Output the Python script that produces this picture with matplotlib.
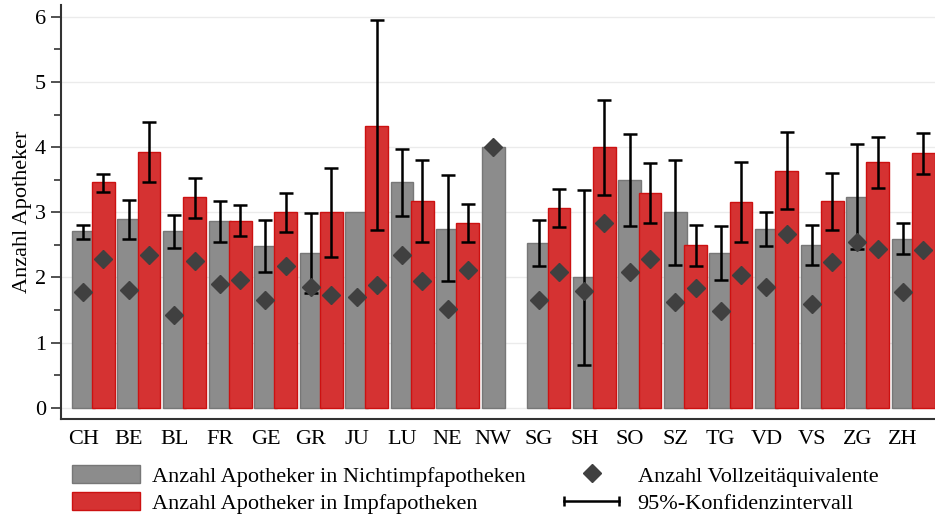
import numpy as np
import matplotlib.pyplot as plt
from matplotlib.lines import Line2D
from matplotlib.patches import Patch
from matplotlib.legend_handler import HandlerLine2D

plt.rcParams['font.family'] = ['Liberation Serif', 'DejaVu Serif']

kantone = ['CH', 'BE', 'BL', 'FR', 'GE', 'GR', 'JU', 'LU', 'NE', 'NW',
           'SG', 'SH', 'SO', 'SZ', 'TG', 'VD', 'VS', 'ZG', 'ZH']

# Nichtimpfapotheken
nicht_mittel = [2.71, 2.90, 2.71, 2.86, 2.49, 2.38, 3.00, 3.46, 2.75, 4.00,
                2.53, 2.00, 3.50, 3.00, 2.37, 2.74, 2.50, 3.24, 2.59]
nicht_unten = [2.59, 2.59, 2.46, 2.54, 2.08, 1.76, np.nan, 2.94, 1.94, np.nan,
               2.18, 0.66, 2.79, 2.19, 1.96, 2.48, 2.19, 2.44, 2.36]
nicht_oben = [2.81, 3.19, 2.96, 3.18, 2.89, 2.99, np.nan, 3.97, 3.57, np.nan,
              2.89, 3.34, 4.20, 3.80, 2.79, 3.00, 2.80, 4.05, 2.83]
nicht_vze = [1.78, 1.81, 1.43, 1.90, 1.66, 1.86, 1.70, 2.34, 1.52, 4.00,
             1.66, 1.80, 2.09, 1.63, 1.49, 1.86, 1.60, 2.55, 1.78]

# Impfapotheken
impf_mittel = [3.46, 3.92, 3.23, 2.87, 3.00, 3.00, 4.33, 3.18, 2.83, np.nan,
               3.07, 4.00, 3.30, 2.50, 3.16, 3.64, 3.17, 3.78, 3.91]
impf_unten = [3.31, 3.46, 2.92, 2.63, 2.70, 2.32, 2.73, 2.55, 2.54, np.nan,
              2.77, 3.26, 2.83, 2.18, 2.55, 3.05, 2.73, 3.37, 3.59]
impf_oben = [3.59, 4.38, 3.52, 3.11, 3.30, 3.68, 5.95, 3.81, 3.13, np.nan,
             3.36, 4.72, 3.76, 2.81, 3.77, 4.23, 3.61, 4.16, 4.22]
impf_vze = [2.29, 2.35, 2.26, 1.96, 2.18, 1.73, 1.89, 1.94, 2.11, np.nan,
            2.09, 2.83, 2.28, 1.84, 2.04, 2.66, 2.24, 2.44, 2.42]

grau = '#8c8c8c'
rot = '#d53232'
raute = '#404040'

x = np.arange(len(kantone))
x_grau = x - 0.222
x_rot = x + 0.222

fig = plt.figure(figsize=(9.35, 5.19), dpi=100)
ax = fig.add_axes([0.065, 0.193, 0.935, 0.797])

ax.bar(x_grau, nicht_mittel, width=0.5, color=grau, edgecolor='#777777', linewidth=1, zorder=2)
ax.bar(x_rot, impf_mittel, width=0.5, color=rot, edgecolor='#cc1111', linewidth=1, zorder=2)

def fehler(mittel, unten, oben):
    m = np.array(mittel)
    return np.vstack([m - np.array(unten), np.array(oben) - m])

ax.errorbar(x_grau, nicht_mittel, yerr=fehler(nicht_mittel, nicht_unten, nicht_oben),
            fmt='none', ecolor='black', elinewidth=1.8, capsize=5, capthick=1.8, zorder=3)
ax.errorbar(x_rot, impf_mittel, yerr=fehler(impf_mittel, impf_unten, impf_oben),
            fmt='none', ecolor='black', elinewidth=1.8, capsize=5, capthick=1.8, zorder=3)

ax.plot(x_grau, nicht_vze, 'D', color=raute, markersize=9, linestyle='none', zorder=4)
ax.plot(x_rot, impf_vze, 'D', color=raute, markersize=9, linestyle='none', zorder=4)

ax.set_xlim(-0.716, 18.48)
ax.set_ylim(-0.17, 6.18)
ax.set_xticks(x_grau)
ax.set_xticklabels(kantone, fontsize=16)
ax.tick_params(axis='x', length=0, pad=8)
ax.set_yticks(range(7))
ax.set_yticks(np.arange(0.5, 6.5, 1.0), minor=True)
ax.tick_params(axis='y', which='major', length=7, width=1.2, labelsize=16, color='#333333')
ax.tick_params(axis='y', which='minor', length=5, width=1.2, color='#333333')
ax.set_ylabel('Anzahl Apotheker', fontsize=16, labelpad=2)
ax.yaxis.grid(True, color='#ebebeb', linewidth=1, zorder=0)
ax.set_axisbelow(True)

for s in ['top', 'right']:
    ax.spines[s].set_visible(False)
for s in ['left', 'bottom']:
    ax.spines[s].set_color('#333333')
    ax.spines[s].set_linewidth(1.5)

h_grau = Patch(facecolor=grau, edgecolor='#777777')
h_rot = Patch(facecolor=rot, edgecolor='#cc1111')
h_vze = Line2D([], [], marker='D', color=raute, markersize=9, linestyle='none')
h_ki = Line2D([], [], color='black', linewidth=1.8, marker='|', markersize=7, markeredgewidth=1.8)

fig.legend([h_grau, h_rot, h_vze, h_ki],
           ['Anzahl Apotheker in Nichtimpfapotheken', 'Anzahl Apotheker in Impfapotheken',
            'Anzahl Vollzeitäquivalente', '95%-Konfidenzintervall'],
           ncol=2, loc='upper left', bbox_to_anchor=(0.077, 0.104), frameon=False,
           fontsize=16, handlelength=3.06, handleheight=0.86, handletextpad=0.54,
           columnspacing=1.44, labelspacing=0.25, numpoints=1,
           borderpad=0, borderaxespad=0,
           handler_map={h_ki: HandlerLine2D(numpoints=2)})

fig.savefig('out.png', dpi=100)
